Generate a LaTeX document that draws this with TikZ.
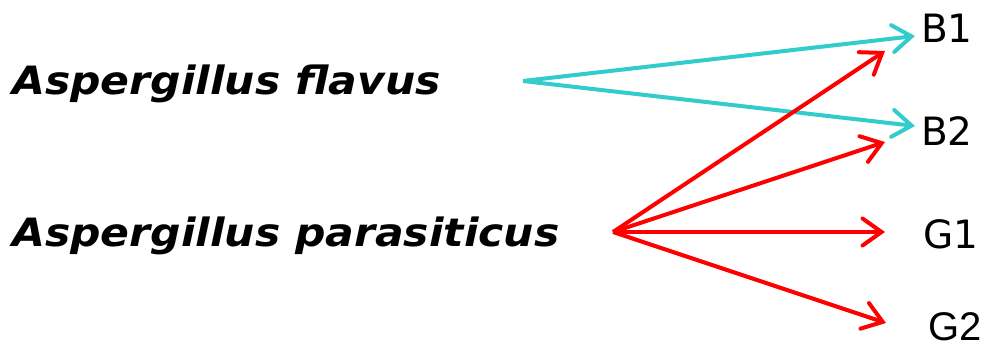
\documentclass[tikz,border=0pt]{standalone}
\usepackage{fontspec}
\usetikzlibrary{arrows.meta}
\newfontfamily\specfont[FakeStretch=1.09]{DejaVu Sans}
\newfontfamily\toxfont{DejaVu Sans}
\newfontfamily\toxfontb{Liberation Sans}
\definecolor{flavcol}{RGB}{51,204,204}
\definecolor{paracol}{RGB}{255,0,0}
\tikzset{
	species/.style={font=\specfont\bfseries\itshape\fontsize{39}{46}\selectfont, inner sep=0pt, anchor=base west},
	toxin/.style={font=\toxfont\fontsize{39}{46}\selectfont, inner sep=0pt, anchor=base west},
	flow/.style={-{Straight Barb[length=19pt, width=27pt, line cap=round]}, line width=4pt},
	flavflow/.style={flow, flavcol},
	paraflow/.style={flow, paracol}
}

\begin{document}
\begin{tikzpicture}[x=1pt, y=-1pt]
	\useasboundingbox (0,0) rectangle (989,352);
	\node[species] (flavus) at (12,95) {Aspergillus flavus};
	\node[species] (parasiticus) at (12,247) {Aspergillus parasiticus};
	\node[toxin] (b1) at (921,43) {B1};
	\node[toxin] (b2) at (921,146) {B2};
	\node[toxin] (g1) at (923,249) {G1};
	\node[toxin, font=\toxfontb\fontsize{40}{46}\selectfont] (g2) at (928,341) {G2};
	% arrow ends
	\coordinate (fl) at (523,81);
	\coordinate (pa) at (613,232);
	\coordinate (fl-b1) at (915,36);
	\coordinate (fl-b2) at (915,126);
	\coordinate (pa-b1) at (885,51);
	\coordinate (pa-b2) at (885,142);
	\coordinate (pa-g1) at (885,232);
	\coordinate (pa-g2) at (886,323);
	\draw[flavflow] (fl) -- (fl-b1);
	\draw[flavflow] (fl) -- (fl-b2);
	\draw[paraflow] (pa) -- (pa-b1);
	\draw[paraflow] (pa) -- (pa-b2);
	\draw[paraflow] (pa) -- (pa-g1);
	\draw[paraflow] (pa) -- (pa-g2);
\end{tikzpicture}
\end{document}
